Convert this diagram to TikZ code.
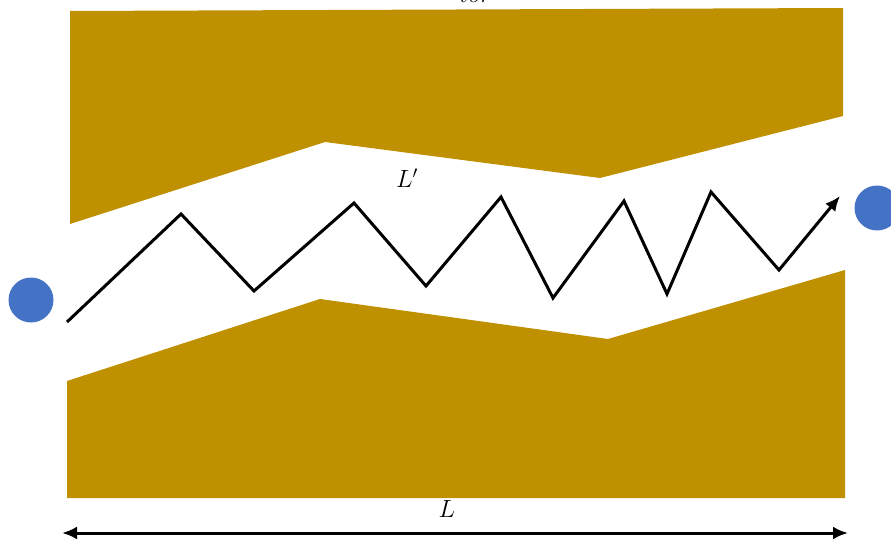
\documentclass[tikz,border=0pt]{standalone}
\usetikzlibrary{arrows.meta}
\definecolor{gold}{HTML}{BF9000}
\definecolor{dotblue}{HTML}{4472C4}
\begin{document}
\begin{tikzpicture}[x=1pt,y=-1pt,
  wall/.style={fill=gold,draw=none},
  dot/.style={circle,fill=dotblue,draw=none,minimum size=45pt,inner sep=0pt},
  path line/.style={line width=3pt,line join=miter,-{Latex[length=15pt,width=13pt]}},
  dim line/.style={line width=3pt,{Latex[length=15pt,width=13pt]}-{Latex[length=15pt,width=13pt]}},
  lbl/.style={font=\fontsize{24}{27}\selectfont,inner sep=0pt}]
\useasboundingbox (0,0) rectangle (891,540);
\fill[wall] (70,11) -- (843,8) -- (843,116) -- (600,178) -- (325,142) -- (70,224) -- cycle;
\fill[wall] (67,381) -- (320,299) -- (608,339) -- (845,270) -- (845,498) -- (67,498) -- cycle;
\node[dot] (src) at (31,300) {};
\node[dot] (dst) at (877,208) {};
\coordinate (p0) at (67,322);
\coordinate (p11) at (840,196);
\draw[path line] (p0) -- (181,214) -- (254,291) -- (354,203) -- (426,286) -- (501,197) -- (553,298) -- (624,201) -- (667,294) -- (711,192) -- (779,270) -- (p11);
\node[lbl] (lp) at (407,178) {$L'$};
\coordinate (dl) at (62,533);
\coordinate (dr) at (848,533);
\draw[dim line] (dl) -- (dr);
\node[lbl] (l) at (447,509) {$L$};
\node[lbl,anchor=base] (top) at (476,3) {$tor$};
\end{tikzpicture}
\end{document}
